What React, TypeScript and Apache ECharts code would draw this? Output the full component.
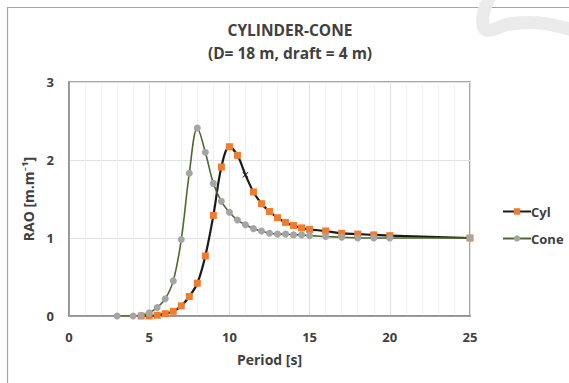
import React, { useEffect, useRef } from "react";
import * as echarts from "echarts";

const titleLines = ["CYLINDER-CONE", "(D= 18 m, draft = 4 m)"];
const xName = "Period [s]";
const yName = "RAO [m.m\u207B\u00B9]";

const cylPeriods = [4.5, 5, 5.5, 6, 6.5, 7, 7.5, 8, 8.5, 9, 9.5, 10, 10.5, 11, 11.5, 12, 12.5, 13, 13.5, 14, 14.5, 15, 16, 17, 18, 19, 20, 25];
const cylRAO = [0.0, 0.0, 0.01, 0.03, 0.06, 0.13, 0.25, 0.42, 0.77, 1.29, 1.91, 2.17, 2.06, 1.81, 1.59, 1.44, 1.34, 1.26, 1.2, 1.16, 1.13, 1.11, 1.09, 1.06, 1.05, 1.04, 1.03, 1.0];

const conePeriods = [3, 4, 4.5, 5, 5.5, 6, 6.5, 7, 7.5, 8, 8.5, 9, 9.5, 10, 10.5, 11, 11.5, 12, 12.5, 13, 13.5, 14, 14.5, 15, 16, 17, 18, 19, 20, 25];
const coneRAO = [0.0, 0.0, 0.01, 0.04, 0.11, 0.22, 0.45, 0.98, 1.83, 2.41, 2.1, 1.7, 1.47, 1.33, 1.23, 1.17, 1.12, 1.09, 1.06, 1.05, 1.05, 1.04, 1.04, 1.03, 1.02, 1.01, 1.0, 1.0, 1.0, 1.0];

const crossPeriod = 11;
const crossPath = "path://M0,1 L1,0 L5,4 L9,0 L10,1 L6,5 L10,9 L9,10 L5,6 L1,10 L0,9 L4,5 Z";

const FONT = "'Open Sans', Lato, sans-serif";
const TXT = "#404040";

export default function App() {
  const ref = useRef<HTMLDivElement>(null);
  useEffect(() => {
    if (!ref.current) return;
    const chart = echarts.init(ref.current, undefined, { renderer: "svg" });
    const cylData = cylPeriods.map((p, i) =>
      p === crossPeriod
        ? { value: [p, cylRAO[i]], symbol: crossPath, symbolSize: 6, itemStyle: { color: "#222" } }
        : { value: [p, cylRAO[i]] }
    );
    const coneData = conePeriods.map((p, i) => [p, coneRAO[i]]);
    chart.setOption({
      animation: false,
      backgroundColor: "#ffffff",
      textStyle: { fontFamily: FONT },
      grid: {
        left: 69,
        right: 99,
        top: 82,
        bottom: 67,
        show: true,
        borderColor: "#8a8a8a",
        borderWidth: 1.5,
        backgroundColor: "transparent",
      },
      xAxis: {
        type: "value",
        min: 0,
        max: 25,
        interval: 5,
        name: xName,
        nameLocation: "middle",
        nameGap: 36,
        nameTextStyle: { fontFamily: FONT, fontWeight: "bold", fontSize: 14, color: TXT },
        axisLine: { show: true, lineStyle: { color: "#8a8a8a", width: 1.5 } },
        axisTick: { show: false },
        axisLabel: { margin: 14, fontFamily: FONT, fontWeight: "bold", fontSize: 13, color: TXT },
        splitLine: { show: true, lineStyle: { color: "#e3e3e3", width: 1 } },
        minorTick: { show: false, splitNumber: 5 },
        minorSplitLine: { show: true, lineStyle: { color: "#f2f2f2", width: 1 } },
      },
      yAxis: {
        type: "value",
        min: 0,
        max: 3,
        interval: 1,
        name: yName,
        nameLocation: "middle",
        nameRotate: 90,
        nameGap: 28,
        nameTextStyle: { fontFamily: FONT, fontWeight: "bold", fontSize: 14, color: TXT },
        axisLine: { show: true, lineStyle: { color: "#8a8a8a", width: 1.5 } },
        axisTick: { show: false },
        axisLabel: { margin: 15, fontFamily: FONT, fontWeight: "bold", fontSize: 13, color: TXT },
        splitLine: { show: true, lineStyle: { color: "#e0e0e0", width: 1 } },
      },
      legend: {
        orient: "vertical",
        left: 497,
        top: 200,
        itemWidth: 28,
        itemHeight: 8,
        itemGap: 14,
        textStyle: { fontFamily: FONT, fontWeight: "bold", fontSize: 13, color: TXT, padding: [0, 0, 0, -5] },
        data: ["Cyl", "Cone"],
      },
      series: [
        {
          name: "Cyl",
          type: "line",
          smooth: 0.35,
          data: cylData,
          symbol: "rect",
          symbolSize: 7,
          z: 3,
          lineStyle: { color: "#1a1a1a", width: 2.2 },
          itemStyle: { color: "#ed7d31" },
        },
        {
          name: "Cone",
          type: "line",
          smooth: 0.35,
          data: coneData,
          symbol: "circle",
          symbolSize: 7,
          z: 4,
          lineStyle: { color: "#4a6a2a", width: 1.6 },
          itemStyle: { color: "#a5a5a5" },
        },
      ],
      graphic: [
        {
          type: "rect",
          shape: { x: 7.5, y: 7.5, width: 620, height: 420 },
          style: { fill: "none", stroke: "#a6a6a6", lineWidth: 1.2 },
          silent: true,
          z: 0,
        },
        {
          type: "text",
          x: 290,
          y: 30,
          style: { text: titleLines[0], textAlign: "center", textVerticalAlign: "middle", fontFamily: FONT, fontWeight: "bold", fontSize: 15.5, fill: TXT },
        },
        {
          type: "text",
          x: 290,
          y: 53,
          style: { text: titleLines[1], textAlign: "center", textVerticalAlign: "middle", fontFamily: FONT, fontWeight: "bold", fontSize: 15.5, fill: TXT },
        },
        {
          type: "polyline",
          shape: { points: [[490, -4], [483, 16], [486, 30], [510, 24], [540, 23], [572, 30]], smooth: 0.4 },
          style: { stroke: "#ebebeb", lineWidth: 13, fill: "none", lineCap: "round" },
          silent: true,
          z: 10,
        },
      ],
    });
    return () => chart.dispose();
  }, []);
  return <div ref={ref} style={{ width: 569, height: 383, position: "absolute", left: 0, top: 0 }} />;
}
